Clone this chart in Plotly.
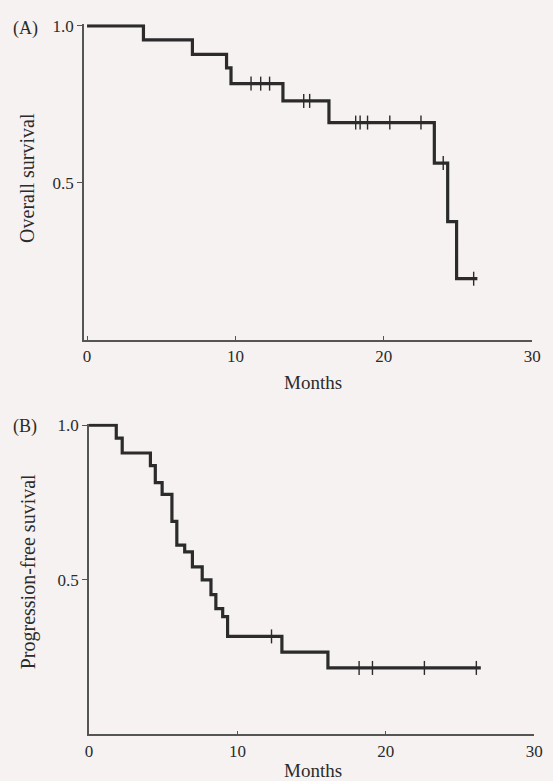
import plotly.graph_objects as go

# ---------------- Data ----------------
# Panel A: overall survival (Kaplan-Meier)
a_event_months = [3.8, 7.1, 9.4, 9.7, 13.2, 16.3, 23.4, 24.3, 24.9]
a_survival = [1.0, 0.955, 0.909, 0.866, 0.816, 0.761, 0.692, 0.563, 0.377, 0.195]
a_censor_months = [11.05, 11.7, 12.3, 14.6, 15.0, 18.1, 18.4, 18.9, 20.4, 22.5, 24.0, 26.05]
a_last_month = 26.3

# Panel B: progression-free survival (Kaplan-Meier)
b_event_months = [1.84, 2.24, 4.14, 4.47, 4.93, 5.59, 5.92, 6.45, 6.97, 7.63,
                  8.22, 8.55, 9.01, 9.34, 13.0, 16.1]
b_survival = [1.0, 0.958, 0.910, 0.869, 0.814, 0.776, 0.689, 0.612, 0.590, 0.542,
              0.500, 0.452, 0.407, 0.381, 0.317, 0.266, 0.215]
b_censor_months = [12.3, 18.2, 19.1, 22.6, 26.1]
b_last_month = 26.4

x_tick_vals = [0, 10, 20, 30]
x_tick_text = ["0", "10", "20", "30"]
y_tick_vals = [0.5, 1.0]
y_tick_text = ["0.5", "1.0"]

# ---------------- Helpers ----------------
def step_xy(event_months, survival, last_month):
    xs = [0] + list(event_months) + [last_month]
    ys = list(survival) + [survival[-1]]
    return xs, ys


def surv_at(t, event_months, survival):
    level = survival[0]
    for i, e in enumerate(event_months):
        if t >= e:
            level = survival[i + 1]
    return level


W, H = 553, 781
FONT = "Liberation Serif, Times New Roman, serif"
INK = "#2b2b2b"
AXIS = "#555555"
BG = "#f6f2f1"

fig = go.Figure()

panels = [
    (a_event_months, a_survival, a_censor_months, a_last_month, "x", "y"),
    (b_event_months, b_survival, b_censor_months, b_last_month, "x2", "y2"),
]
for ev, sv, cens, last, xa, ya in panels:
    xs, ys = step_xy(ev, sv, last)
    fig.add_trace(go.Scatter(
        x=xs, y=ys, mode="lines", line=dict(shape="hv", color=INK, width=3.2),
        xaxis=xa, yaxis=ya, showlegend=False, hoverinfo="skip"))
    fig.add_trace(go.Scatter(
        x=cens, y=[surv_at(t, ev, sv) for t in cens], mode="markers",
        marker=dict(symbol="line-ns", size=10, line=dict(color=INK, width=1.4)),
        xaxis=xa, yaxis=ya, showlegend=False, hoverinfo="skip", cliponaxis=False))


def px_x(p):
    return p / W


def px_y(p):
    return (H - p) / H


xcommon = dict(tickvals=x_tick_vals, ticktext=x_tick_text, ticks="inside", ticklen=4,
               tickcolor=AXIS, showline=True, linecolor=AXIS, linewidth=1.6,
               showgrid=False, zeroline=False,
               tickfont=dict(family=FONT, size=17, color=INK))
ycommon = dict(tickvals=y_tick_vals, ticktext=y_tick_text, ticks="outside", ticklen=5,
               tickcolor=AXIS, showline=True, linecolor=AXIS, linewidth=1.6,
               showgrid=False, zeroline=False, range=[0, 1.005],
               tickfont=dict(family=FONT, size=17, color=INK))

fig.update_layout(
    width=W, height=H,
    margin=dict(l=0, r=0, t=0, b=0),
    paper_bgcolor=BG, plot_bgcolor=BG,
    xaxis=dict(domain=[px_x(82), px_x(541)], range=[-0.2, 30], anchor="y", **xcommon),
    yaxis=dict(domain=[px_y(336), px_y(17.4)], anchor="x", **ycommon),
    xaxis2=dict(domain=[px_x(87), px_x(543)], range=[0, 30], anchor="y2", **xcommon),
    yaxis2=dict(domain=[px_y(734), px_y(420.4)], anchor="x2", **ycommon),
)

ann = [
    ("(A)", 22, 22, 18, 0),
    ("Overall survival", 24, 172, 20, -90),
    ("Months", 316, 379, 19, 0),
    ("(B)", 22, 423, 18, 0),
    ("Progression-free suvival", 25, 570, 20, -90),
    ("Months", 316, 770, 19, 0),
]
for text, x, y, size, ang in ann:
    fig.add_annotation(text=text, x=px_x(x), y=px_y(y), xref="paper", yref="paper",
                       showarrow=False, textangle=ang, xanchor="center", yanchor="middle",
                       font=dict(family=FONT, size=size, color=INK))

fig.write_html("out.html")
